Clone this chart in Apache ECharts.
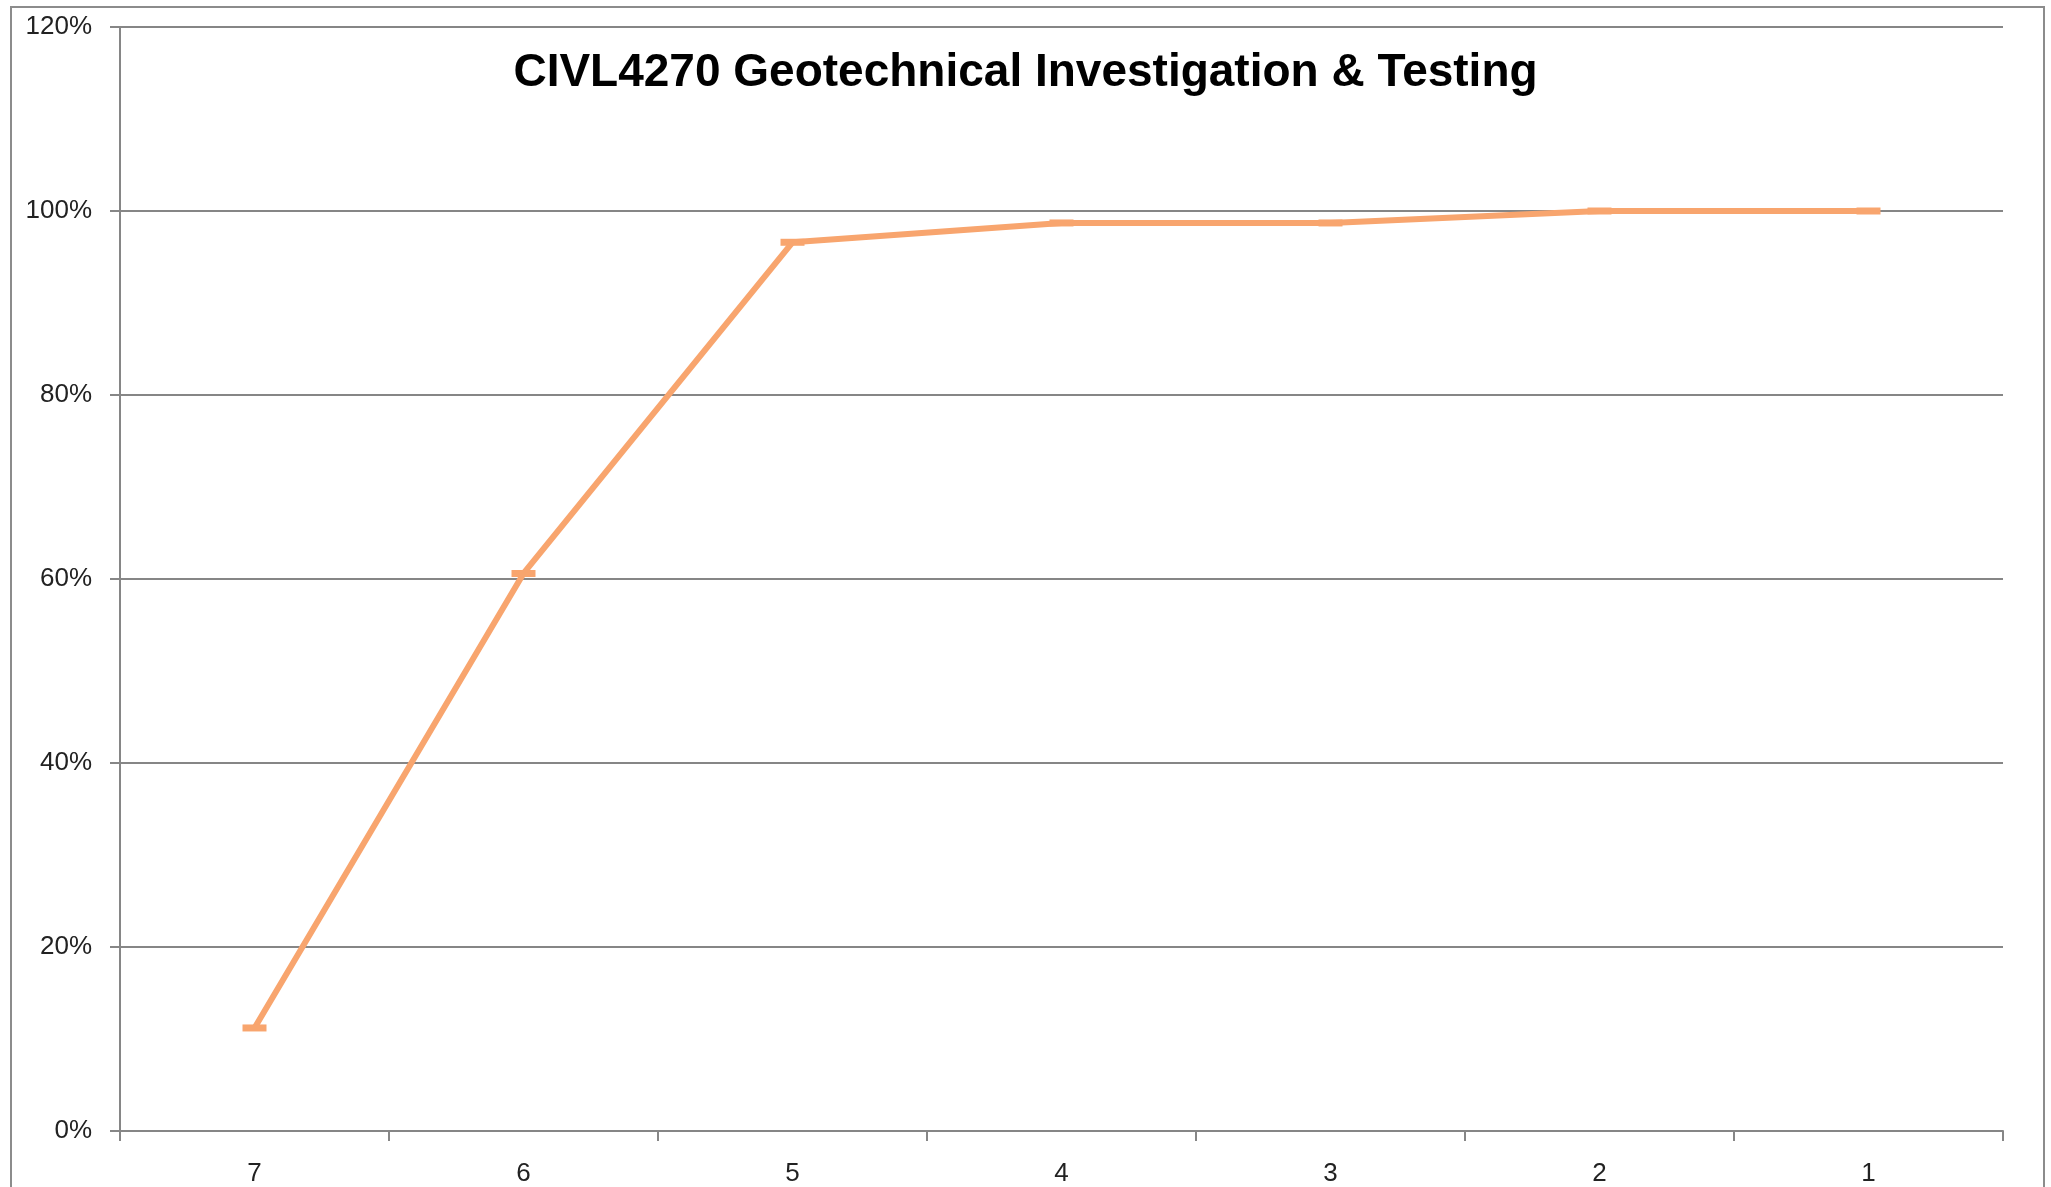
<!DOCTYPE html>
<html>
<head>
<meta charset="utf-8">
<script src="https://cdn.jsdelivr.net/npm/echarts@6/dist/echarts.min.js"></script>
<style>
html,body{margin:0;padding:0;background:#fff;}
#chart{width:2051px;height:1187px;}
</style>
</head>
<body>
<div id="chart"></div>
<script>
const titleText = 'CIVL4270 Geotechnical Investigation & Testing';
const categories = ['7', '6', '5', '4', '3', '2', '1'];
const values = [11.2, 60.6, 96.6, 98.7, 98.7, 100, 100];
const yTicks = { min: 0, max: 120, interval: 20 };

const chart = echarts.init(document.getElementById('chart'));
const gridColor = '#868686';
const font = 'Liberation Sans, Arial, sans-serif';
chart.setOption({
  animation: false,
  backgroundColor: '#fff',
  graphic: [{
    type: 'rect',
    shape: { x: 11, y: 7, width: 2033, height: 1195 },
    style: { fill: 'none', stroke: '#8c8c8c', lineWidth: 2 },
    silent: true
  }],
  title: {
    text: titleText,
    left: 'center',
    top: 45,
    textStyle: { fontFamily: font, fontWeight: 'bold', fontSize: 46, color: '#000' }
  },
  grid: { left: 120, top: 27, right: 48, bottom: 55, containLabel: false },
  xAxis: {
    type: 'category',
    data: categories,
    boundaryGap: true,
    axisLine: { lineStyle: { color: gridColor, width: 2 } },
    axisTick: { show: true, length: 10, lineStyle: { color: gridColor, width: 2 } },
    axisLabel: { fontFamily: font, fontSize: 26, color: '#222', margin: 30 },
    splitLine: { show: false }
  },
  yAxis: {
    type: 'value',
    min: yTicks.min, max: yTicks.max, interval: yTicks.interval,
    axisLine: { show: true, lineStyle: { color: gridColor, width: 2 } },
    axisTick: { show: true, length: 10, lineStyle: { color: gridColor, width: 2 } },
    axisLabel: { fontFamily: font, fontSize: 26, color: '#222', margin: 28, formatter: v => v + '%' },
    splitLine: { show: true, lineStyle: { color: gridColor, width: 2 } }
  },
  series: [{
    type: 'line',
    data: values,
    symbol: 'rect',
    symbolSize: [24, 7],
    showAllSymbol: true,
    lineStyle: { color: '#F8A56E', width: 6 },
    itemStyle: { color: '#F8A56E' },
    z: 5
  }]
});
</script>
</body>
</html>
